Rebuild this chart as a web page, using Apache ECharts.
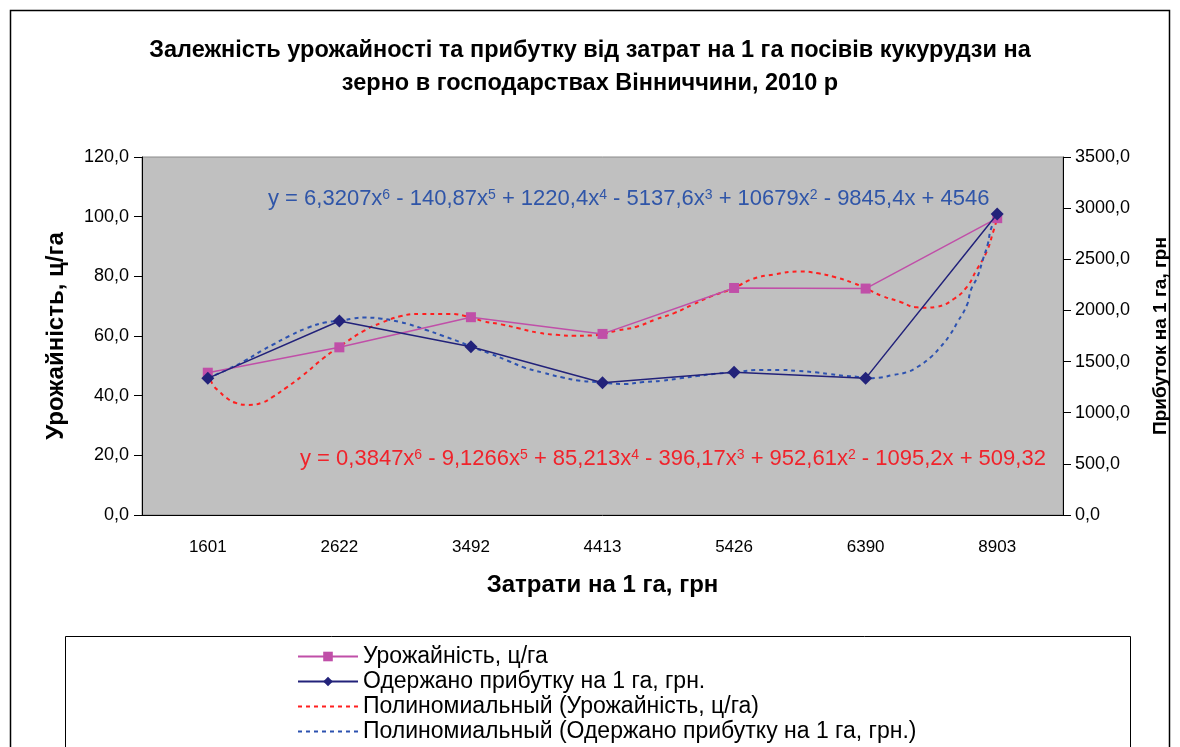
<!DOCTYPE html>
<html>
<head>
<meta charset="utf-8">
<script src="https://cdn.jsdelivr.net/npm/echarts@6/dist/echarts.min.js"></script>
<style>
  html, body { margin: 0; padding: 0; background: #fff; }
  #main { width: 1180px; height: 747px; }
</style>
</head>
<body>
<div id="main"></div>
<script>
// costs per 1 ha (x categories)
var costs = ['1601', '2622', '3492', '4413', '5426', '6390', '8903'];
// yield, c/ha (left axis)
var yieldVals = [47.7, 56.2, 66.3, 60.7, 76.1, 75.9, 99.5];
// profit per 1 ha, UAH (right axis)
var profitVals = [1336, 1897, 1645, 1293, 1395, 1336, 2943];

// trend curves: [category position (1..7), value]
var yieldTrend = [
  [1.00, 47.7], [1.04, 43.6], [1.09, 41.3], [1.14, 39.3], [1.21, 37.6], [1.31, 36.9],
  [1.41, 37.6], [1.49, 39.5], [1.60, 42.8], [1.72, 46.7], [1.88, 52.6], [2.00, 56.4],
  [2.19, 61.8], [2.33, 64.6], [2.47, 66.7], [2.61, 67.4], [2.82, 67.4], [3.00, 66.3],
  [3.09, 65.0], [3.23, 63.9], [3.37, 62.5], [3.51, 61.1], [3.65, 60.4], [3.78, 60.1],
  [3.92, 60.2], [4.00, 60.7], [4.12, 61.9], [4.26, 63.1], [4.40, 65.5], [4.54, 67.6],
  [4.68, 70.4], [4.82, 73.2], [5.00, 76.1], [5.14, 79.1], [5.30, 80.6], [5.50, 81.6],
  [5.64, 81.0], [5.77, 79.7], [5.91, 77.7], [6.00, 76.0], [6.12, 73.5], [6.26, 71.5],
  [6.39, 69.6], [6.46, 69.5], [6.54, 69.8], [6.67, 72.4], [6.77, 76.5], [6.84, 81.9],
  [6.92, 88.3], [6.97, 95.0], [7.00, 99.5]
];
var profitTrend = [
  [1.00, 1336], [1.14, 1418], [1.28, 1506], [1.41, 1606], [1.49, 1662], [1.62, 1750],
  [1.76, 1831], [1.90, 1884], [2.00, 1897], [2.11, 1922], [2.20, 1930], [2.32, 1919],
  [2.45, 1890], [2.53, 1864], [2.66, 1809], [2.79, 1750], [2.94, 1679], [3.00, 1645],
  [3.14, 1581], [3.28, 1508], [3.41, 1440], [3.55, 1391], [3.69, 1346], [3.83, 1313],
  [3.96, 1300], [4.00, 1293], [4.17, 1281], [4.31, 1300], [4.45, 1313], [4.59, 1336],
  [4.72, 1359], [4.86, 1381], [5.00, 1395], [5.20, 1418], [5.35, 1418], [5.49, 1408],
  [5.62, 1395], [5.73, 1378], [5.83, 1362], [5.93, 1352], [6.00, 1336], [6.10, 1342],
  [6.21, 1369], [6.31, 1395], [6.39, 1444], [6.49, 1538], [6.57, 1645], [6.64, 1760],
  [6.70, 1890], [6.77, 2053], [6.80, 2200], [6.85, 2330], [6.89, 2493], [6.93, 2656],
  [6.95, 2786], [7.00, 2943]
];

var seriesNames = [
  'Урожайність, ц/га',
  'Одержано прибутку на 1 га, грн.',
  'Полиномиальный (Урожайність, ц/га)',
  'Полиномиальный (Одержано прибутку на 1 га, грн.)'
];

var FONT = '"Liberation Sans", Arial, sans-serif';

function commaFmt(v) {
  return v.toFixed(1).replace('.', ',');
}

// trend lines show only a dashed line in the legend, no marker
var noMarker = { opacity: 0, color: 'rgba(0,0,0,0)', borderWidth: 0 };

var chart = echarts.init(document.getElementById('main'));

chart.setOption({
  animation: false,
  textStyle: { fontFamily: FONT },
  title: {
    text: 'Залежність урожайності та прибутку від затрат на 1 га посівів кукурудзи на\nзерно в господарствах Вінниччини, 2010 р',
    left: 'center',
    top: 29,
    textStyle: { fontSize: 23.5, fontWeight: 'bold', color: '#000', lineHeight: 33, fontFamily: FONT }
  },
  grid: {
    left: 142, right: 117, top: 157, bottom: 232,
    show: true,
    backgroundColor: '#c0c0c0',
    borderColor: '#8a8a8a',
    borderWidth: 1
  },
  legend: {
    orient: 'vertical',
    left: 297,
    top: 645,
    height: 140,
    padding: 0,
    itemWidth: 60,
    itemHeight: 12,
    itemGap: 2,
    data: [
      { name: seriesNames[0] },
      { name: seriesNames[1] },
      { name: seriesNames[2], itemStyle: noMarker },
      { name: seriesNames[3], itemStyle: noMarker }
    ],
    textStyle: { fontSize: 23, color: '#000', fontFamily: FONT, padding: [0, 0, 0, 0] }
  },
  xAxis: [
    {
      type: 'category',
      data: costs,
      boundaryGap: true,
      axisLine: { lineStyle: { color: '#000', width: 1 } },
      axisTick: { length: 8, lineStyle: { color: '#000' } },
      axisLabel: { fontSize: 17, color: '#000', margin: 24 },
      splitLine: { show: false },
      name: 'Затрати на 1 га, грн',
      nameLocation: 'middle',
      nameGap: 58,
      nameTextStyle: { fontSize: 24, fontWeight: 'bold', color: '#000' }
    },
    {
      type: 'value',
      min: 0.5,
      max: 7.5,
      show: false
    }
  ],
  yAxis: [
    {
      type: 'value',
      min: 0, max: 120, interval: 20,
      position: 'left',
      axisLine: { show: true, lineStyle: { color: '#000', width: 1 } },
      axisTick: { show: true, length: 8, lineStyle: { color: '#000' } },
      axisLabel: { fontSize: 18, color: '#000', margin: 13, formatter: commaFmt },
      splitLine: { show: false },
      name: 'Урожайність, ц/га',
      nameLocation: 'middle',
      nameRotate: 90,
      nameGap: 74,
      nameTextStyle: { fontSize: 24, fontWeight: 'bold', color: '#000' }
    },
    {
      type: 'value',
      min: 0, max: 3500, interval: 500,
      position: 'right',
      axisLine: { show: true, lineStyle: { color: '#000', width: 1 } },
      axisTick: { show: true, length: 8, lineStyle: { color: '#000' } },
      axisLabel: { fontSize: 18, color: '#000', margin: 12, formatter: commaFmt },
      splitLine: { show: false },
      name: 'Прибуток на 1 га, грн',
      nameLocation: 'middle',
      nameRotate: 90,
      nameGap: 88,
      nameTextStyle: { fontSize: 19, fontWeight: 'bold', color: '#000' }
    }
  ],
  graphic: [
    {
      type: 'rect',
      shape: { x: 10.5, y: 10.5, width: 1159, height: 800 },
      style: { fill: 'none', stroke: '#000', lineWidth: 1.5 },
      z: -10
    },
    {
      type: 'rect',
      shape: { x: 65.5, y: 636.5, width: 1065, height: 200 },
      style: { fill: '#fff', stroke: '#000', lineWidth: 1 },
      z: -5
    },
    {
      type: 'text',
      x: 268, y: 188,
      z: 100,
      style: {
        text: 'y = 6,3207x{s|6} - 140,87x{s|5} + 1220,4x{s|4} - 5137,6x{s|3} + 10679x{s|2} - 9845,4x + 4546',
        fill: '#2f55a8',
        font: '22px ' + FONT,
        rich: { s: { fontSize: 14, fill: '#2f55a8', verticalAlign: 'top', fontFamily: FONT } }
      }
    },
    {
      type: 'text',
      x: 300, y: 448,
      z: 100,
      style: {
        text: 'y = 0,3847x{s|6} - 9,1266x{s|5} + 85,213x{s|4} - 396,17x{s|3} + 952,61x{s|2} - 1095,2x + 509,32',
        fill: '#f0232b',
        font: '22px ' + FONT,
        rich: { s: { fontSize: 14, fill: '#f0232b', verticalAlign: 'top', fontFamily: FONT } }
      }
    }
  ],
  series: [
    {
      name: seriesNames[2],
      type: 'line',
      xAxisIndex: 1,
      yAxisIndex: 0,
      data: yieldTrend,
      smooth: true,
      symbol: 'none',
      color: '#ff1f1f',
      lineStyle: { color: '#ff1f1f', width: 2, type: [4, 4] },
      z: 3
    },
    {
      name: seriesNames[3],
      type: 'line',
      xAxisIndex: 1,
      yAxisIndex: 1,
      data: profitTrend,
      smooth: true,
      symbol: 'none',
      color: '#2d52b0',
      lineStyle: { color: '#2d52b0', width: 2, type: [4, 4] },
      z: 3
    },
    {
      name: seriesNames[0],
      type: 'line',
      xAxisIndex: 0,
      yAxisIndex: 0,
      data: yieldVals,
      symbol: 'rect',
      symbolSize: 10,
      color: '#c04fa8',
      itemStyle: { color: '#c04fa8' },
      lineStyle: { color: '#c04fa8', width: 1.5 },
      z: 4
    },
    {
      name: seriesNames[1],
      type: 'line',
      xAxisIndex: 0,
      yAxisIndex: 1,
      data: profitVals,
      symbol: 'diamond',
      symbolSize: 13,
      color: '#22227a',
      itemStyle: { color: '#22227a' },
      lineStyle: { color: '#22227a', width: 1.5 },
      z: 5
    }
  ]
});
</script>
</body>
</html>
